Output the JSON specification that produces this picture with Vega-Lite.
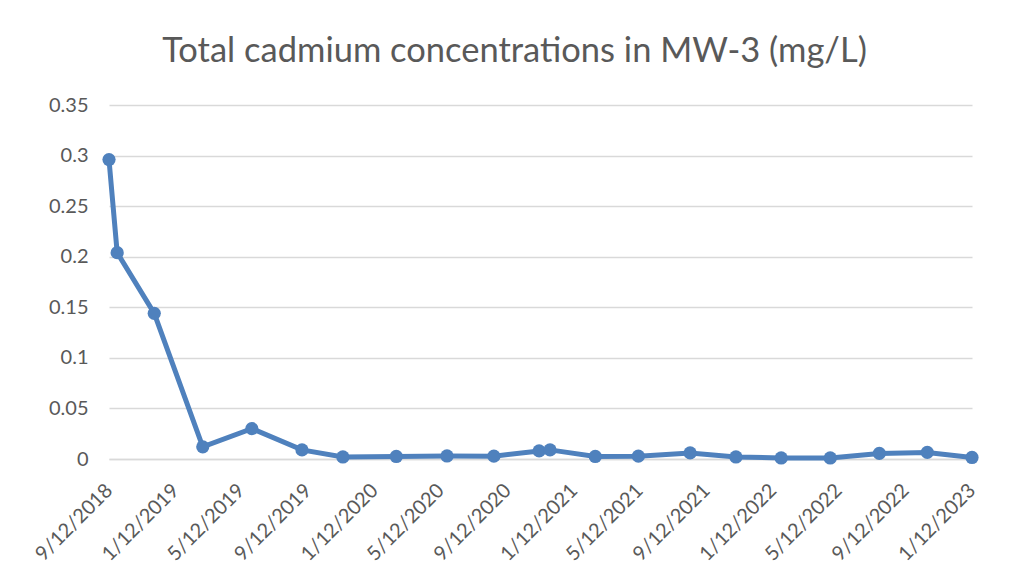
{
  "$schema": "https://vega.github.io/schema/vega-lite/v6.json",
  "autosize": {"type": "none"},
  "width": 863,
  "height": 354,
  "padding": {"left": 109, "top": 105, "right": 38, "bottom": 124},
  "background": "white",
  "title": {
    "text": "Total cadmium concentrations in MW-3 (mg/L)",
    "font": "Lato",
    "fontSize": 34.5,
    "fontWeight": "normal",
    "color": "#595959",
    "anchor": "middle",
    "baseline": "alphabetic",
    "dx": -26,
    "offset": -1
  },
  "data": {
    "values": [
      {"date": "2018-09-12", "cd": 0.296},
      {"date": "2018-09-27", "cd": 0.204},
      {"date": "2018-12-04", "cd": 0.144},
      {"date": "2019-03-03", "cd": 0.012},
      {"date": "2019-06-01", "cd": 0.030},
      {"date": "2019-09-01", "cd": 0.009},
      {"date": "2019-11-15", "cd": 0.002},
      {"date": "2020-02-21", "cd": 0.0025},
      {"date": "2020-05-24", "cd": 0.003},
      {"date": "2020-08-18", "cd": 0.0028},
      {"date": "2020-11-09", "cd": 0.008},
      {"date": "2020-11-29", "cd": 0.009},
      {"date": "2021-02-20", "cd": 0.0025},
      {"date": "2021-05-10", "cd": 0.0028},
      {"date": "2021-08-13", "cd": 0.006},
      {"date": "2021-11-05", "cd": 0.002},
      {"date": "2022-01-27", "cd": 0.001},
      {"date": "2022-04-27", "cd": 0.001},
      {"date": "2022-07-26", "cd": 0.0055},
      {"date": "2022-10-22", "cd": 0.0065},
      {"date": "2023-01-12", "cd": 0.0015}
    ]
  },
  "mark": {"type": "line", "color": "#4f81bd", "strokeWidth": 5, "point": {"filled": true, "size": 175, "color": "#4f81bd", "opacity": 1}},
  "encoding": {
    "x": {
      "field": "date",
      "type": "temporal",
      "scale": {"type": "utc", "domain": [{"year": 2018, "month": 9, "date": 12, "utc": true}, {"year": 2023, "month": 1, "date": 12, "utc": true}]},
      "axis": {
        "title": null,
        "values": [
          {"year": 2018, "month": 9, "date": 12, "utc": true},
          {"year": 2019, "month": 1, "date": 12, "utc": true},
          {"year": 2019, "month": 5, "date": 12, "utc": true},
          {"year": 2019, "month": 9, "date": 12, "utc": true},
          {"year": 2020, "month": 1, "date": 12, "utc": true},
          {"year": 2020, "month": 5, "date": 12, "utc": true},
          {"year": 2020, "month": 9, "date": 12, "utc": true},
          {"year": 2021, "month": 1, "date": 12, "utc": true},
          {"year": 2021, "month": 5, "date": 12, "utc": true},
          {"year": 2021, "month": 9, "date": 12, "utc": true},
          {"year": 2022, "month": 1, "date": 12, "utc": true},
          {"year": 2022, "month": 5, "date": 12, "utc": true},
          {"year": 2022, "month": 9, "date": 12, "utc": true},
          {"year": 2023, "month": 1, "date": 12, "utc": true}
        ],
        "labelExpr": "utcFormat(datum.value, '%-m/%-d/%Y')",
        "labelAngle": -45,
        "labelAlign": "right",
        "labelBaseline": "middle",
        "labelFont": "Lato",
        "labelFontSize": 20,
        "labelColor": "#595959",
        "labelPadding": 28,
        "labelOverlap": false,
        "labelFlush": false,
        "ticks": false,
        "grid": false,
        "domainColor": "#d9d9d9",
        "domainWidth": 1.5
      }
    },
    "y": {
      "field": "cd",
      "type": "quantitative",
      "scale": {"domain": [0, 0.35], "nice": false},
      "axis": {
        "title": null,
        "values": [0, 0.05, 0.1, 0.15, 0.2, 0.25, 0.3, 0.35],
        "labelExpr": "datum.value == 0 ? '0' : format(datum.value, '.2~f')",
        "labelFont": "Lato",
        "labelFontSize": 20,
        "labelColor": "#595959",
        "labelPadding": 21,
        "ticks": false,
        "domain": false,
        "gridColor": "#d9d9d9",
        "gridWidth": 1.5
      }
    }
  },
  "config": {"view": {"stroke": null}}
}
